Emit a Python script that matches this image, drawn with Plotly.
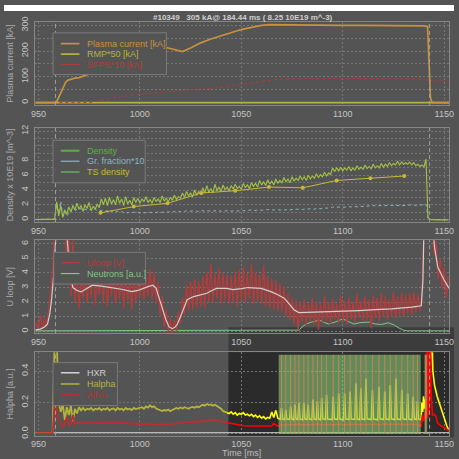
import plotly.graph_objects as go

W, H = 459, 459
FONT = "Liberation Sans, Arial, sans-serif"

# ---------------------------------------------------------------- data
T_START = 948  # first sample [ms] of the 1 ms sampled signals

# panel 1: plasma current, RMP and SFPS currents
ip_t = [948.5, 958.6, 959.5, 960.5, 961.5, 962.5, 963.5, 964.5, 966, 968, 970, 972, 974,
        980, 990, 1000, 1008, 1013, 1017, 1021, 1025, 1030, 1035, 1040, 1044, 1048,
        1052, 1056, 1060, 1064, 1070, 1080, 1090, 1100, 1110, 1120, 1130, 1136, 1140,
        1141.8, 1142.5, 1143.2, 1144, 1152.4]
ip_v = [0, 0, 12, 30, 50, 68, 80, 87, 91, 95, 97, 104, 108,
        125, 160, 190, 208, 214, 207, 198, 212, 232, 247, 260, 270, 279,
        287, 294, 300, 303, 302, 301, 301, 300, 300, 300, 299, 299, 298,
        295, 150, 20, 0, 0]
rmp_t = [948.5, 1152.4]
rmp_v = [0, 0]
sfps_t = [948.5, 975, 980, 985, 990, 995, 1000, 1005, 1010, 1015, 1020, 1030, 1040, 1044,
          1050, 1056, 1062, 1068, 1074, 1080, 1090, 1100, 1110, 1120, 1130, 1138, 1141,
          1143, 1146, 1152.4]
sfps_v = [0, 0, 8, 15, 22, 28, 33, 37, 41, 44, 47, 52, 58, 63,
          70, 78, 85, 90, 93, 94, 94, 93, 93, 93, 93, 92, 88,
          85, 84, 84]

# panel 2: line averaged density, Greenwald fraction*10, Thomson density
density = [
    0, 0,
    0, 0, 0, 0, 0, 0, 0, 0, 0.05, 2.4,
    0.5, 1.9, 0.3, 1.2, 0.8, 1.7, 1.0, 1.9, 1.3, 2.2,
    1.4, 1.9, 1.1, 2.0, 1.5, 2.3, 1.2, 1.8, 1.4, 2.1,
    1.6, 2.8, 2.0, 2.9, 1.9, 3.0, 2.1, 2.7, 2.0, 3.2,
    2.2, 2.8, 1.9, 3.1, 2.1, 2.6, 2.0, 3.0, 2.3, 2.9,
    2.2, 2.8, 2.4, 3.1, 2.3, 2.7, 2.2, 3.0, 2.4, 2.8,
    2.3, 3.2, 2.5, 2.9, 2.4, 3.0, 2.6, 3.3, 2.7, 3.1,
    2.9, 3.6, 3.0, 3.8, 3.2, 3.6, 3.1, 4.0, 3.3, 3.8,
    3.4, 4.3, 3.6, 4.6, 3.7, 4.2, 3.6, 4.8, 3.9, 4.4,
    3.8, 4.7, 4.0, 4.4, 3.9, 4.6, 4.1, 4.8, 4.2, 4.5,
    4.1, 4.9, 4.3, 4.7, 4.2, 5.0, 4.5, 4.9, 4.4, 5.3,
    4.7, 5.1, 4.6, 5.4, 4.8, 5.2, 4.7, 5.5, 4.9, 5.3,
    5.0, 5.7, 5.1, 5.5, 5.0, 5.8, 5.2, 5.6, 5.3, 5.9,
    5.4, 5.8, 5.3, 6.0, 5.5, 5.9, 5.6, 6.2, 5.7, 6.1,
    5.8, 6.4, 5.9, 6.3, 6.1, 7.0, 6.5, 7.0, 6.6, 7.1,
    6.6, 7.0, 6.7, 7.2, 6.6, 7.0, 6.7, 7.3, 6.8, 7.1,
    6.8, 7.4, 6.9, 7.2, 6.9, 7.5, 7.0, 7.3, 7.0, 7.6,
    7.1, 7.5, 7.2, 7.7, 7.3, 7.6, 7.4, 7.9, 7.4, 7.8,
    7.5, 7.7, 7.5, 7.8, 7.4, 7.7, 7.3, 7.5, 7.2, 7.4,
    7.1, 8.2, 0.3, 0.0, -0.05, -0.05, -0.05, -0.05, -0.05, -0.05,
    -0.05, -0.05, -0.05,
]
gr_fraction = [
    0, 0,
    0, 0, 0, 0, 0, 0, 0, 0, 0.05, 2.2,
    0.8, 2.5, 0.5, 1.4, 0.4, 1.0, 1.3, 1.5, 1.2, 1.4,
    1.3, 1.5, 1.2, 1.4, 1.3, 1.5, 1.2, 1.3, 1.4, 1.2,
    1.3, 1.2, 1.3, 1.1, 1.2, 1.3, 1.1, 1.2, 1.0, 1.1,
    1.0, 1.1, 0.9, 1.0, 0.9, 1.0, 0.9, 1.0, 0.9, 1.0,
    0.9, 1.0, 0.9, 0.95, 0.9, 1.0, 0.9, 1.0, 0.95, 1.0,
    0.9, 1.0, 0.95, 1.0, 0.95, 1.05, 1.0, 1.1, 1.0, 1.1,
    1.05, 1.15, 1.1, 1.2, 1.1, 1.15, 1.1, 1.2, 1.1, 1.15,
    1.1, 1.2, 1.1, 1.2, 1.15, 1.2, 1.1, 1.2, 1.15, 1.2,
    1.1, 1.2, 1.15, 1.2, 1.1, 1.15, 1.1, 1.2, 1.15, 1.2,
    1.15, 1.2, 1.2, 1.25, 1.2, 1.3, 1.2, 1.25, 1.2, 1.3,
    1.25, 1.3, 1.25, 1.35, 1.3, 1.3, 1.25, 1.35, 1.3, 1.35,
    1.3, 1.35, 1.3, 1.4, 1.3, 1.35, 1.3, 1.4, 1.35, 1.4,
    1.35, 1.4, 1.35, 1.45, 1.4, 1.45, 1.4, 1.5, 1.45, 1.5,
    1.45, 1.55, 1.5, 1.55, 1.6, 1.7, 1.65, 1.7, 1.65, 1.7,
    1.65, 1.7, 1.65, 1.75, 1.7, 1.75, 1.7, 1.75, 1.7, 1.8,
    1.75, 1.8, 1.8, 1.85, 1.8, 1.9, 1.85, 1.9, 1.85, 1.9,
    1.85, 1.9, 1.85, 1.95, 1.9, 1.9, 1.85, 1.95, 1.9, 1.95,
    1.9, 1.95, 1.9, 2.0, 1.9, 1.95, 1.9, 2.0, 1.95, 2.0,
    1.95, 2.1, 0.2, 0.0, 0.0, 0.0, 0.0, 0.0, 0.0, 0.0,
    0.0, 0.0, 0.0,
]
ts_t = [980.6, 997.0, 1013.6, 1030.3, 1047.0, 1063.6, 1080.3, 1097.0, 1113.6, 1130.3]
ts_v = [0.9, 1.75, 2.2, 3.6, 3.9, 4.4, 4.3, 5.3, 5.6, 5.9]

# panel 3: loop voltage (raw and smoothed) and neutrons
uloop = [
    0.05, 0.6,
    0.1, 1.1, 0.15, 0.9, 0.2, 1.5, 2.6, 4.2, 7.5, 9.0,
    8.5, 9.0, 8.0, 9.0, 3.5, 6.5, 2.4, 6.2, 2.0, 3.9,
    1.6, 3.6, 2.2, 4.3, 1.9, 4.0, 2.3, 4.5, 1.8, 3.9,
    2.5, 4.2, 2.0, 4.4, 1.7, 3.8, 2.4, 4.1, 1.9, 3.7,
    2.2, 4.0, 1.6, 3.6, 2.1, 3.5, 1.5, 3.9, 2.0, 3.6,
    2.3, 4.2, 2.1, 3.8, 2.4, 4.3, 2.2, 4.0, 1.9, 3.4,
    1.0, 2.4, 0.3, 1.5, -0.1, 0.9, -0.2, 0.8, 0.0, 1.3,
    0.5, 2.3, 1.1, 3.2, 1.4, 3.4, 1.5, 3.6, 1.6, 3.4,
    1.7, 3.8, 1.6, 4.1, 2.0, 4.6, 1.9, 4.0, 2.2, 4.3,
    1.8, 4.0, 2.1, 3.9, 1.8, 3.8, 2.0, 4.1, 1.7, 4.2,
    2.1, 4.4, 1.9, 4.0, 2.2, 4.6, 1.8, 4.1, 2.0, 3.9,
    1.9, 4.5, 1.7, 3.8, 1.6, 3.6, 1.5, 3.5, 1.4, 3.3,
    1.3, 3.1, 1.0, 2.6, 0.8, 2.3, 0.5, 2.1, 0.1, 2.0,
    0.6, 2.2, 0.4, 1.9, 0.7, 2.3, 0.5, 2.0, 0.1, 1.9,
    0.6, 2.4, 0.7, 2.0, 0.5, 2.2, 0.8, 1.9, 0.6, 2.5,
    0.7, 2.1, 0.5, 2.3, 0.8, 2.0, 0.6, 2.6, 0.9, 2.1,
    0.7, 2.4, 0.8, 2.2, 0.2, 2.5, 0.9, 2.3, 0.7, 2.6,
    1.0, 2.4, 0.8, 2.2, 1.0, 2.7, 0.9, 2.4, 1.1, 2.6,
    1.0, 2.5, 1.2, 2.6, 1.1, 2.7, 1.3, 2.5, 1.4, 2.8,
    7.0, 9.0, 9.0, 9.0, 8.5, 5.2, 6.2, 3.6, 5.0, 2.9,
    4.4, 2.3, 3.8,
]
uloop_smooth_t = [948.5, 951, 953, 954.5, 955.6, 956.5, 957.5, 958.3, 959, 963.5, 964.5,
                  965.5, 967, 969, 971, 974, 976.6, 981, 986, 991, 996, 999, 1004, 1006.4,
                  1008, 1009, 1010.4, 1011.5, 1012.8, 1014.4, 1016, 1017.5, 1018.5, 1020,
                  1021, 1023.3, 1026.5, 1030, 1033, 1035.5, 1037.8, 1042.6, 1046, 1050,
                  1053.4, 1059.8, 1064.6, 1068, 1071.1, 1073.5, 1075.9, 1078.4, 1082.4,
                  1092, 1100, 1108, 1116, 1124, 1134, 1138.7, 1139.5, 1140, 1144.5, 1145.2,
                  1146.8, 1148.5, 1150, 1152.4]
uloop_smooth_v = [0.1, 0.15, 0.3, 0.5, 1.2, 2.2, 3.8, 5.5, 7.5, 7.5, 5.5,
                  4.0, 3.0, 2.8, 2.7, 2.95, 3.16, 3.1, 3.0, 2.88, 2.72, 2.8, 3.06, 3.16,
                  2.94, 2.5, 1.93, 1.3, 0.81, 0.3, 0.18, 0.3, 0.5, 1.0,
                  1.37, 2.16, 2.38, 2.5, 2.61, 2.8, 2.94, 2.94, 2.86, 2.92,
                  3.0, 2.94, 2.72, 2.5, 2.27, 1.9, 1.48, 1.28, 1.3,
                  1.3, 1.37, 1.42, 1.48, 1.53, 1.66, 1.75, 3.5, 7.0, 7.0, 5.8,
                  4.4, 3.9, 3.5, 2.94]
neutron_t = [948.5, 1077, 1078.5, 1080, 1082, 1085, 1088.5, 1091, 1093, 1096, 1100, 1103,
             1105.5, 1109, 1113, 1116, 1119, 1122.5, 1125.5, 1128, 1130, 1132, 1152.4]
neutron_v = [0.03, 0.03, 0.08, 0.3, 0.5, 0.65, 0.76, 0.6, 0.5, 0.62, 0.85, 0.65,
             0.5, 0.6, 0.63, 0.5, 0.47, 0.58, 0.42, 0.2, 0.07, 0.03, 0.03]

# panel 4: H-alpha, visible light, HXR
halpha_early = [
    0.005, 0.005,
    0.005, 0.005, 0.005, 0.005, 0.005, 0.005, 0.005, 0.005, 0.6, 0.6,
    0.2, 0.14, 0.19, 0.09, 0.17, 0.12, 0.18, 0.08, 0.16, 0.13,
    0.17, 0.15, 0.165, 0.15, 0.16, 0.155, 0.165, 0.15, 0.16, 0.155,
    0.165, 0.15, 0.16, 0.155, 0.165, 0.15, 0.158, 0.162, 0.15, 0.165,
    0.155, 0.16, 0.15, 0.165, 0.155, 0.16, 0.152, 0.165, 0.158, 0.162,
    0.165, 0.17, 0.16, 0.175, 0.168, 0.182, 0.17, 0.175, 0.162, 0.155,
    0.15, 0.145, 0.152, 0.148, 0.155, 0.145, 0.152, 0.16, 0.165, 0.16,
    0.168, 0.162, 0.17, 0.165, 0.16, 0.168, 0.172, 0.166, 0.174, 0.17,
    0.178, 0.185, 0.18, 0.19, 0.184, 0.188, 0.18, 0.186, 0.178, 0.17,
    0.16, 0.145, 0.138, 0.135,
]
allvis_early = [
    0.005, 0.005,
    0.005, 0.005, 0.005, 0.005, 0.005, 0.005, 0.005, 0.005, 0.21, 0.15,
    0.09, 0.06, 0.045, 0.065, 0.11, 0.055, 0.065, 0.12, 0.06, 0.07,
    0.072, 0.068, 0.075, 0.07, 0.073, 0.067, 0.072, 0.07, 0.074, 0.068,
    0.071, 0.069, 0.073, 0.07, 0.072, 0.068, 0.071, 0.07, 0.073, 0.069,
    0.07, 0.067, 0.072, 0.068, 0.07, 0.066, 0.069, 0.064, 0.066, 0.063,
    0.062, 0.065, 0.06, 0.063, 0.061, 0.064, 0.06, 0.062, 0.059, 0.061,
    0.06, 0.062, 0.059, 0.061, 0.063, 0.06, 0.064, 0.066, 0.068, 0.07,
    0.072, 0.07, 0.075, 0.073, 0.076, 0.074, 0.078, 0.076, 0.079, 0.077,
    0.08, 0.082, 0.079, 0.085, 0.083, 0.088, 0.086, 0.09, 0.087, 0.084,
    0.08, 0.076, 0.073, 0.072,
]
halpha_late_t = [
    1043, 1044, 1045, 1046, 1047, 1048, 1049, 1050, 1051, 1052, 1053, 1054, 1055, 1056,
    1057, 1058, 1059, 1060, 1061, 1062, 1063, 1064, 1065, 1066, 1067, 1068,
    1069.3, 1069.8, 1070.3, 1071.4, 1071.9, 1072.4, 1073.8, 1074.3, 1074.8,
    1075.9, 1076.4, 1076.9, 1077.9, 1078.4, 1078.9, 1080.3, 1080.8, 1081.3,
    1082.4, 1082.9, 1083.4, 1084.8, 1085.3, 1085.8, 1087.0, 1087.5, 1088.0,
    1089.1, 1089.6, 1090.1, 1091.5, 1092.0, 1092.5, 1094.8, 1095.3, 1095.8,
    1097.5, 1098.0, 1098.5, 1100.4, 1100.9, 1101.4, 1103.1, 1103.6, 1104.1,
    1106.0, 1106.5, 1107.0, 1108.4, 1108.9, 1109.4, 1110.9, 1111.4, 1111.9,
    1114.1, 1114.6, 1115.1, 1117.3, 1117.8, 1118.3, 1120.2, 1120.7, 1121.2,
    1122.9, 1123.4, 1123.9, 1125.7, 1126.2, 1126.7, 1128.6, 1129.1, 1129.6,
    1131.5, 1132.0, 1132.5, 1134.2, 1134.7, 1135.2, 1136.3, 1136.8, 1137.3,
    1138.6, 1139.0, 1139.4, 1139.8, 1140.2, 1140.6, 1141.0, 1141.6, 1142.2,
    1142.8, 1143.4, 1143.8, 1144.4, 1145.2, 1146.5, 1148.0, 1149.7, 1151.3, 1152.4,
]
halpha_late_v = [
    0.135, 0.13, 0.14, 0.125, 0.135, 0.12, 0.13, 0.125, 0.135, 0.12, 0.125, 0.115, 0.125, 0.11,
    0.12, 0.105, 0.115, 0.1, 0.11, 0.095, 0.105, 0.1, 0.14, 0.105, 0.15, 0.1,
    0.092, 0.166, 0.095, 0.09, 0.155, 0.094, 0.092, 0.176, 0.096,
    0.09, 0.186, 0.095, 0.091, 0.197, 0.094, 0.09, 0.197, 0.095,
    0.092, 0.186, 0.096, 0.09, 0.218, 0.094, 0.091, 0.207, 0.095,
    0.09, 0.228, 0.096, 0.092, 0.249, 0.095, 0.091, 0.238, 0.096,
    0.092, 0.259, 0.095, 0.09, 0.259, 0.096, 0.091, 0.27, 0.095,
    0.092, 0.322, 0.096, 0.09, 0.29, 0.095, 0.091, 0.353, 0.096,
    0.092, 0.28, 0.095, 0.09, 0.3, 0.096, 0.091, 0.27, 0.095,
    0.092, 0.311, 0.096, 0.09, 0.353, 0.095, 0.091, 0.28, 0.096,
    0.092, 0.259, 0.095, 0.09, 0.238, 0.096, 0.091, 0.207, 0.095,
    0.09, 0.2, 0.14, 0.24, 0.16, 0.22, 0.14, 0.18, 0.2,
    0.3, 0.7, 0.7, 0.4, 0.31, 0.24, 0.176, 0.103, 0.05, 0.02,
]
allvis_late_t = [
    1043, 1045, 1047, 1049, 1051, 1053, 1055, 1057, 1059, 1061, 1063, 1065, 1066, 1067, 1068,
    1069.8, 1071.9, 1074.3, 1076.4, 1078.4, 1080.8, 1082.9, 1085.3, 1087.5, 1089.6,
    1092.0, 1095.3, 1098.0, 1100.9, 1103.6, 1106.5, 1108.9, 1111.4, 1114.6, 1117.8,
    1120.7, 1123.4, 1126.2, 1129.1, 1132.0, 1134.7, 1136.8,
    1138.6, 1139.2, 1139.8, 1140.4, 1141.0, 1141.4, 1141.8, 1142.2, 1142.6, 1143.0,
    1143.5, 1144.2, 1145.0, 1146.0, 1146.7, 1148.0, 1150.0, 1151.5, 1152.4,
]
allvis_late_v = [
    0.072, 0.066, 0.06, 0.056, 0.052, 0.05, 0.05, 0.048, 0.047, 0.046, 0.046, 0.05, 0.066, 0.06, 0.05,
    0.06, 0.055, 0.06, 0.058, 0.062, 0.056, 0.06, 0.057, 0.063, 0.058,
    0.062, 0.057, 0.063, 0.058, 0.062, 0.06, 0.063, 0.058, 0.062, 0.059,
    0.063, 0.058, 0.064, 0.06, 0.062, 0.059, 0.06,
    0.05, 0.12, 0.08, 0.14, 0.1, 0.7, 0.1, 0.7, 0.12, 0.7,
    0.27, 0.12, 0.125, 0.11, 0.07, 0.055, 0.04, 0.03, 0.02,
]
pulse_t = [1069.8, 1071.9, 1074.3, 1076.4, 1078.4, 1080.8, 1082.9, 1085.3, 1087.5, 1089.6,
           1092.0, 1095.3, 1098.0, 1100.9, 1103.6, 1106.5, 1108.9, 1111.4, 1114.6, 1117.8,
           1120.7, 1123.4, 1126.2, 1129.1, 1132.0, 1134.7, 1136.8, 1140.9]
gate_start = [1068.4, 1140.3]
gate_end = [1138.4, 1141.6]
gate_level = 0.503
hxr_t = [948.5, 1152.4]
hxr_v = [0.008, 0.008]

event_t = [958.4, 1142.8]

# ---------------------------------------------------------------- style
BG = "#545454"
FRAME = "#858585"
GRID = "#767676"
TICK = "#c4c4c4"
C_IP = "#c8923c"
C_RMP = "#b4b43a"
C_SFPS = "#b63a3a"
C_DENS = "#a2c244"
C_DENS_LEG = "#5cb04a"
C_GR = "#8ab4c4"
C_TS = "#c8b838"
C_UL = "#b83a3a"
C_SMOOTH = "#d0d0d0"
C_NEU = "#80c880"
C_HXR = "#d2d2d2"
C_HA = "#b4b43a"
C_AV = "#b83030"

X0, X1 = 32, 454                     # plot frame, pixel columns
PANELS = [(17.3, 101.7, [-9, 313]),
          (125.0, 221.0, [-0.36, 12.44]),
          (239.3, 334.0, [-0.13, 6.25]),
          (353.3, 438.3, [-0.011, 0.52])]
XR = [948.5, 1152.4]

def px(p):
    return p / W

def py(p):
    return 1 - p / H

t_ms = [T_START + i for i in range(len(density))]
t_early = [T_START + i for i in range(len(halpha_early))]

fig = go.Figure()

def add(n, x, y, color, width=1.0, dash="solid", mode="lines", **kw):
    fig.add_trace(go.Scatter(
        x=x, y=y, mode=mode, xaxis="x" if n == 1 else f"x{n}",
        yaxis="y" if n == 1 else f"y{n}", showlegend=False, hoverinfo="skip",
        line=dict(color=color, width=width, dash=dash), **kw))

# panel 1
add(1, rmp_t, rmp_v, C_RMP, 1.6)
add(1, sfps_t, sfps_v, C_SFPS, 1.0, "dot")
add(1, ip_t, ip_v, C_IP, 1.7)

# panel 2
add(2, t_ms, gr_fraction, C_GR, 1.0, "dot")
add(2, t_ms, density, C_DENS, 1.1)
add(2, ts_t, ts_v, C_TS, 1.0, mode="lines+markers", marker=dict(size=4, color=C_TS))

# panel 3
add(3, neutron_t, neutron_v, C_NEU, 1.0)
add(3, t_ms, uloop, C_UL, 1.3)
add(3, uloop_smooth_t, uloop_smooth_v, C_SMOOTH, 1.2)

# panel 4 (early part, muted)
add(4, hxr_t, hxr_v, C_HXR, 1.0)
add(4, t_early, halpha_early, C_HA, 1.8)
add(4, t_early, allvis_early, C_AV, 1.8)
add(4, halpha_late_t, halpha_late_v, "#ffff00", 1.6)
add(4, allvis_late_t, allvis_late_v, "#ff0000", 1.6)
# gate windows (semi transparent)
for g0, g1 in zip(gate_start, gate_end):
    fig.add_trace(go.Scatter(x=[g0, g0, g1, g1, g0], y=[0, gate_level, gate_level, 0, 0],
                             xaxis="x4", yaxis="y4", mode="lines", fill="toself",
                             fillcolor="rgba(130,205,120,0.6)", line=dict(width=0),
                             showlegend=False, hoverinfo="skip"))
# pulse markers
mk_x, mk_y = [], []
for t in pulse_t:
    mk_x += [t, t, None]
    mk_y += [0, gate_level, None]
add(4, mk_x, mk_y, "rgba(225,125,90,0.85)", 1.0)

# ---------------------------------------------------------------- axes
layout = dict(
    width=W, height=H, margin=dict(l=0, r=0, t=0, b=0),
    paper_bgcolor=BG, plot_bgcolor="rgba(0,0,0,0)",
    font=dict(family=FONT, size=9, color=TICK),
    showlegend=False,
)
ytick = [dict(tickvals=[0, 100, 200, 300], minor=dict(dtick=50, showgrid=True, gridcolor=GRID, griddash="2px,2px", gridwidth=1)),
         dict(tickvals=[0, 2, 4, 6, 8, 12], minor=dict(dtick=1, showgrid=True, gridcolor=GRID, griddash="2px,2px", gridwidth=1)),
         dict(tickvals=[0, 1, 2, 3, 4, 5, 6]),
         dict(tickvals=[0.0, 0.2, 0.4], tickformat=".1f")]
titles = ["Plasma current [kA]", "Density x 10E19 [m^-3]", "U loop [V]", "Halpha [a.u.]"]
for i, (top, bot, yr) in enumerate(PANELS):
    n = i + 1
    sx = "" if n == 1 else str(n)
    layout[f"xaxis{sx}"] = dict(
        domain=[px(X0), px(X1)], range=XR, anchor=f"y{sx}",
        tickvals=[950, 1000, 1050, 1100, 1150], showgrid=True, gridcolor=GRID,
        griddash="2px,2px", gridwidth=1, zeroline=False, showline=True, mirror=True,
        linecolor=FRAME, linewidth=1, ticks="",
        tickfont=dict(size=9, color=TICK))
    ya = dict(domain=[py(bot), py(top)], range=yr, anchor=f"x{sx}",
              showgrid=True, gridcolor=GRID, griddash="2px,2px", gridwidth=1,
              zeroline=False, showline=True, mirror=True, linecolor=FRAME, linewidth=1,
              ticks="outside", ticklen=3, tickcolor="rgba(0,0,0,0)", tickangle=-90,
              tickfont=dict(size=9, color=TICK),
              title=dict(text=titles[i], font=dict(size=9, color="#aaaaaa"), standoff=4))
    ya.update(ytick[i])
    layout[f"yaxis{sx}"] = ya

shapes = []
# darker inset in the lower right corner
shapes.append(dict(type="rect", xref="paper", yref="paper", x0=px(229), x1=1,
                   y0=py(440), y1=py(328), fillcolor="#3c3c3c", line=dict(width=0), layer="below"))
shapes.append(dict(type="rect", xref="paper", yref="paper", x0=px(229), x1=px(X1),
                   y0=py(438.3), y1=py(353.3), fillcolor="#2b2b2b", line=dict(width=0), layer="below"))
# white strip at the top
shapes.append(dict(type="rect", xref="paper", yref="paper", x0=0, x1=1, y0=py(6), y1=1,
                   fillcolor="white", line=dict(width=0), layer="above"))
# event markers
for n in range(1, 5):
    sx = "" if n == 1 else str(n)
    for t in event_t:
        shapes.append(dict(type="line", xref=f"x{sx}", yref=f"y{sx} domain", x0=t, x1=t,
                           y0=0, y1=1, line=dict(color="#a0a0a0", width=1, dash="4px,3px")))

annotations = []
# manual legends
legends = [
    ((50, 165.7, 28.3, 70.7), [("Plasma current [kA]", C_IP, C_IP, 1.7, "solid", 39.3),
                               ("RMP*50 [kA]", C_RMP, C_RMP, 1.7, "solid", 50.0),
                               ("SFPS*10 [kA]", C_SFPS, C_SFPS, 1.0, "solid", 60.7)]),
    ((50, 144, 137.7, 181), [("Density", C_DENS_LEG, C_DENS_LEG, 2.0, "solid", 148.3),
                             ("Gr. fraction*10", C_GR, C_GR, 1.2, "solid", 159.0),
                             ("TS density", "#6cbf5c", C_TS, 1.2, "solid", 170.0)]),
    ((50.7, 144.3, 251.7, 284), [("Uloop [V]", C_UL, C_UL, 1.5, "solid", 262.3),
                                 ("Neutrons [a.u.]", C_NEU, C_NEU, 1.2, "solid", 273.3)]),
    ((50, 115.7, 364, 407.7), [("HXR", C_HXR, C_HXR, 1.5, "solid", 374.3),
                               ("Halpha", C_HA, C_HA, 1.5, "solid", 385.7),
                               ("Allvis", C_AV, C_AV, 1.5, "solid", 396.7)]),
]
for (bx0, bx1, by0, by1), entries in legends:
    shapes.append(dict(type="rect", xref="paper", yref="paper", x0=px(bx0), x1=px(bx1),
                       y0=py(by1), y1=py(by0), fillcolor=BG,
                       line=dict(color="#7a7a7a", width=1), layer="above"))
    for label, lc, tc, lw, dash, yy in entries:
        shapes.append(dict(type="line", xref="paper", yref="paper", x0=px(58), x1=px(77),
                           y0=py(yy), y1=py(yy), line=dict(color=lc, width=lw, dash=dash),
                           layer="above"))
        annotations.append(dict(xref="paper", yref="paper", x=px(83), y=py(yy), text=label,
                                showarrow=False, xanchor="left", yanchor="middle",
                                font=dict(size=9, color=tc, family=FONT)))

annotations.append(dict(xref="paper", yref="paper", x=px(244), y=py(12.5),
                        text="<b>#10349   305 kA@ 184.44 ms ( 8.25 10E19 m^-3)</b>",
                        showarrow=False, xanchor="center", yanchor="middle",
                        font=dict(size=8, color="#d0d0d0", family=FONT)))
annotations.append(dict(xref="paper", yref="paper", x=px(242), y=py(455.5),
                        text="Time [ms]", showarrow=False, xanchor="center", yanchor="middle",
                        font=dict(size=9, color="#bdbdbd", family=FONT)))

layout["shapes"] = shapes
layout["annotations"] = annotations
fig.update_layout(**layout)
fig.write_html("out.html")
